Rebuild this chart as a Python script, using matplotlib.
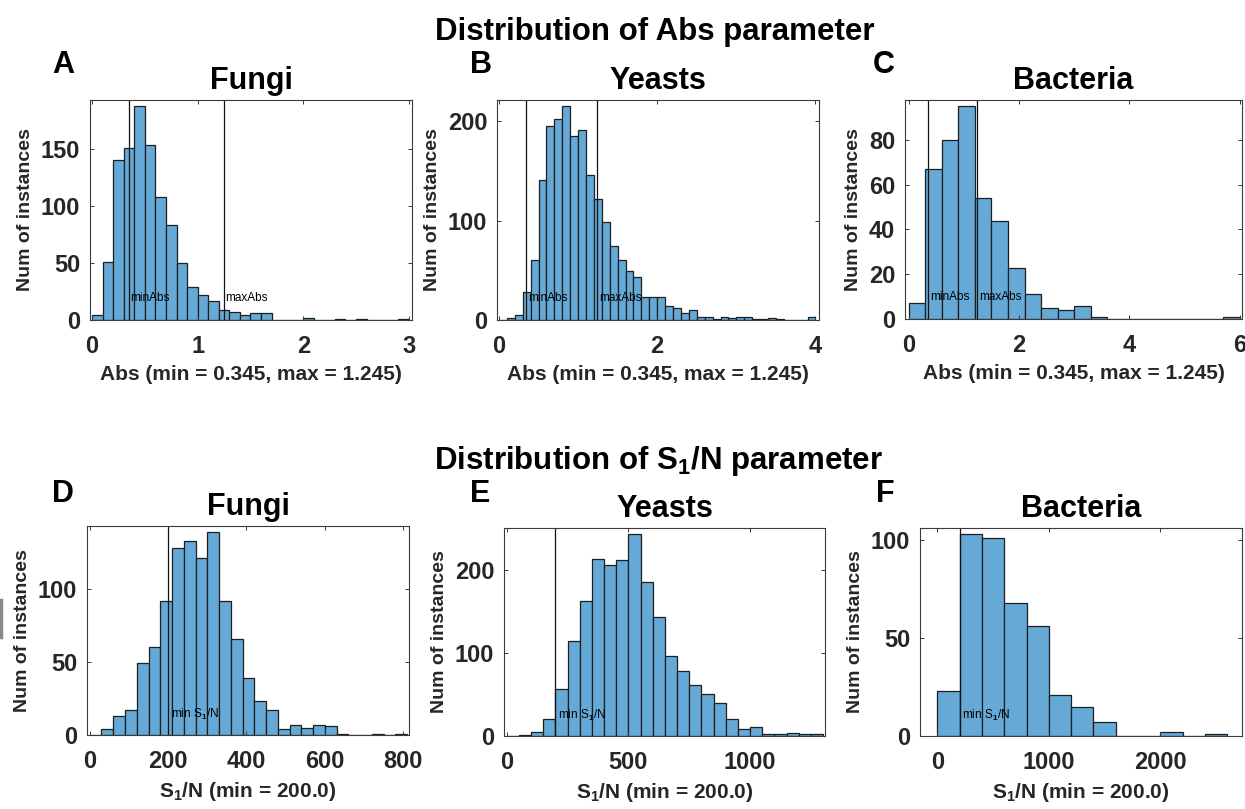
import numpy as np
import matplotlib
matplotlib.use("Agg")
import matplotlib.pyplot as plt
from matplotlib.lines import Line2D

plt.rcParams['font.family'] = ['Liberation Sans', 'DejaVu Sans']
plt.rcParams['font.weight'] = 'bold'
plt.rcParams['axes.labelweight'] = 'bold'
plt.rcParams['axes.titleweight'] = 'bold'
plt.rcParams['mathtext.fontset'] = 'custom'
plt.rcParams['mathtext.rm'] = 'Liberation Sans'
plt.rcParams['mathtext.bf'] = 'Liberation Sans:bold'
plt.rcParams['mathtext.it'] = 'Liberation Sans:italic'

# histogram counts (one value per bin)
fungi_abs = [4, 51, 140, 151, 187, 153, 108, 83, 50, 29, 22, 17, 9, 7, 4, 6, 6,
             0, 0, 0, 2, 0, 0, 1, 0, 1, 0, 0, 0, 1]
yeast_abs = [0, 2, 5, 28, 60, 141, 195, 202, 215, 185, 191, 146, 122, 99, 74, 60,
             49, 43, 23, 23, 23, 14, 12, 7, 10, 3, 3, 1, 3, 2, 3, 3, 1, 1, 2, 1,
             0, 0, 0, 3]
bact_abs = [7, 67, 80, 95, 54, 44, 23, 11, 5, 4, 6, 1, 0, 0, 0, 0, 0, 0, 0, 1]

fungi_sn = [0, 4, 13, 17, 49, 60, 92, 128, 133, 121, 139, 92, 66, 39, 23, 17, 4,
            7, 5, 7, 6, 1, 0, 0, 1, 0, 1]
yeast_sn = [0, 1, 5, 21, 57, 114, 163, 213, 206, 212, 243, 185, 143, 96, 78, 61,
            50, 40, 21, 8, 11, 2, 3, 4, 2, 2]
bact_sn = [23, 103, 101, 68, 56, 21, 15, 7, 0, 0, 2, 0, 1]

# bin edges
fungi_abs_edges = np.linspace(0, 3.0, 31)
yeast_abs_edges = np.linspace(0, 4.0, 41)
bact_abs_edges = np.linspace(0, 6.0, 21)
fungi_sn_edges = np.linspace(0, 810, 28)
yeast_sn_edges = np.linspace(0, 1300, 27)
bact_sn_edges = np.linspace(0, 2600, 14)

min_abs, max_abs = 0.345, 1.245
min_sn = 200.0

titles = ['Fungi', 'Yeasts', 'Bacteria']
letters = ['A', 'B', 'C', 'D', 'E', 'F']

W, H = 1245, 809
fig = plt.figure(figsize=(W / 100, H / 100), dpi=100)

# axes boxes in pixels: left, top, right, bottom
boxes = [(90, 100, 412, 320), (497, 100, 819, 320), (905, 100, 1242, 319),
         (87, 526, 409, 735), (504, 528, 825, 736), (920, 528, 1242, 736)]
xlims = [(-0.02, 3.03), (-0.025, 4.045), (-0.066, 6.04),
         (-7, 815), (-11, 1308), (-156, 2733)]
xticks = [[0, 1, 2, 3], [0, 2, 4], [0, 2, 4, 6],
          [0, 200, 400, 600, 800], [0, 500, 1000], [0, 1000, 2000]]
yticks = [[0, 50, 100, 150], [0, 100, 200], [0, 20, 40, 60, 80],
          [0, 50, 100], [0, 100, 200], [0, 50, 100]]
counts = [fungi_abs, yeast_abs, bact_abs, fungi_sn, yeast_sn, bact_sn]
edges = [fungi_abs_edges, yeast_abs_edges, bact_abs_edges,
         fungi_sn_edges, yeast_sn_edges, bact_sn_edges]

abs_label = 'Abs (min = %.3f, max = %.3f)' % (min_abs, max_abs)
sn_label = r'$\mathbf{S_1}$/N (min = %.1f)' % min_sn

face = '#65a9d7'
edge = '#1e1e1e'
axcol = '#3a3a3a'

for i in range(6):
    l, t, r, b = boxes[i]
    ax = fig.add_axes([l / W, 1 - b / H, (r - l) / W, (b - t) / H])
    e = np.asarray(edges[i])
    c = np.asarray(counts[i])
    ax.bar(e[:-1], c, width=np.diff(e), align='edge', color=face,
           edgecolor=edge, linewidth=0.9)
    ymax = 1.03 * c.max()
    ax.set_ylim(0, ymax)
    ax.set_xlim(*xlims[i])
    ax.set_xticks(xticks[i])
    ax.set_yticks(yticks[i])
    for s in ax.spines.values():
        s.set_color(axcol)
        s.set_linewidth(0.8)
    ax.tick_params(direction='in', top=True, right=True, length=3, width=0.7,
                   color=axcol, labelsize=17, labelcolor='#262626')
    ax.tick_params(axis='x', pad=11)
    ax.tick_params(axis='y', pad=7)
    ax.set_title(titles[i % 3], fontsize=22, fontweight='bold', pad=8)
    ax.set_ylabel('Num of instances', fontsize=14, fontweight='bold',
                  labelpad=5, color='#262626')
    if i < 3:
        ax.axvline(min_abs, color='#111111', lw=0.9)
        ax.axvline(max_abs, color='#111111', lw=0.9)
        xr = xlims[i][1] - xlims[i][0]
        ax.text(min_abs + 0.006 * xr, 0.1 * ymax, 'minAbs', fontsize=8.5,
                fontweight='normal', va='center', ha='left')
        ax.text(max_abs + 0.006 * xr, 0.1 * ymax, 'maxAbs', fontsize=8.5,
                fontweight='normal', va='center', ha='left')
        ax.set_xlabel(abs_label, fontsize=15, fontweight='bold', labelpad=5,
                      color='#262626')
    else:
        ax.axvline(min_sn, color='#111111', lw=0.9)
        xr = xlims[i][1] - xlims[i][0]
        ax.text(min_sn + 0.008 * xr, 0.1 * ymax, r'min S$_\mathrm{1}$/N',
                fontsize=8.5, fontweight='normal', va='center', ha='left')
        ax.set_xlabel(sn_label, fontsize=15, fontweight='bold', labelpad=5,
                      color='#262626')

# panel letters
letter_pos = [(52, 73), (470, 73), (873, 73), (52, 502), (470, 502), (876, 502)]
for k, (px, py) in enumerate(letter_pos):
    fig.text(px / W, 1 - py / H, letters[k], fontsize=22, fontweight='bold',
             ha='left', va='baseline')

fig.text(655 / W, 1 - 40 / H, 'Distribution of Abs parameter', fontsize=22.5,
         fontweight='bold', ha='center', va='baseline')
fig.text(658 / W, 1 - 469 / H, r'Distribution of S$_\mathbf{1}$/N parameter',
         fontsize=22.5, fontweight='bold', ha='center', va='baseline')

# small grey mark at the left edge of the original
fig.add_artist(Line2D([0.001, 0.001], [1 - 600 / H, 1 - 637 / H],
                      color='#8a8a8a', lw=2.5))

fig.savefig('out.png', dpi=100)
